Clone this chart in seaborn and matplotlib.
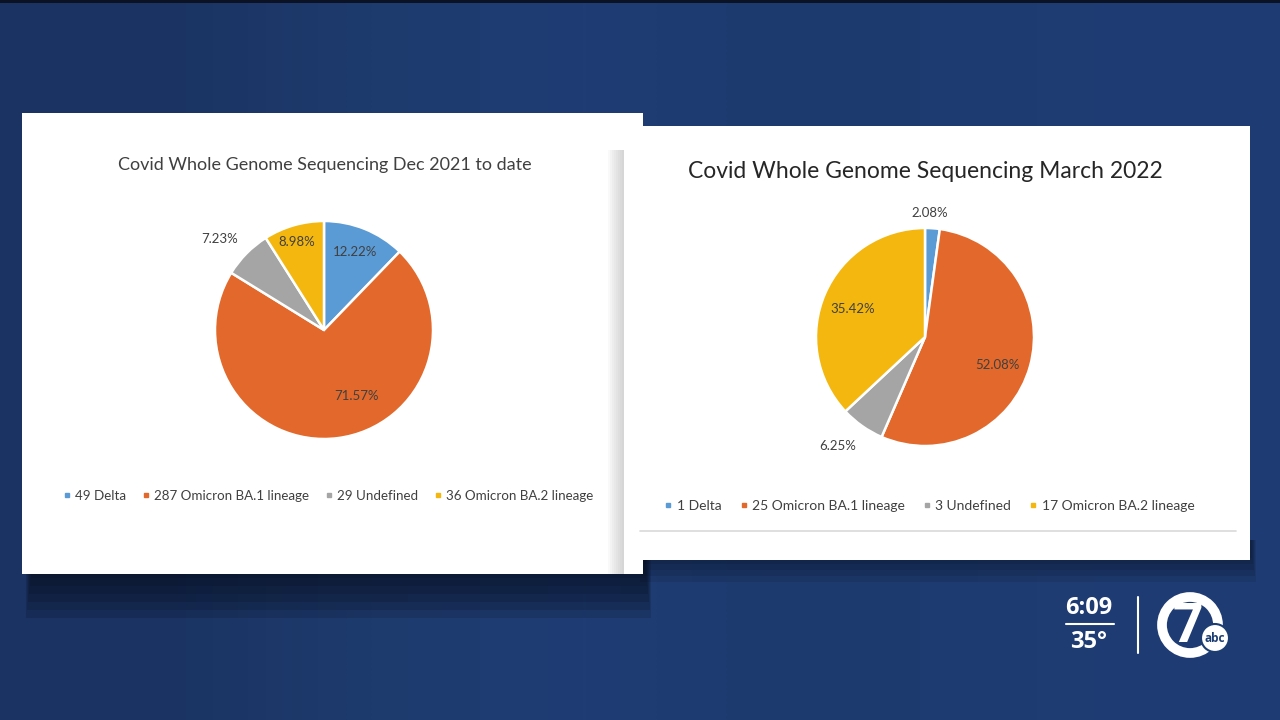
import numpy as np
import matplotlib
matplotlib.use("Agg")
import matplotlib.pyplot as plt
import seaborn as sns
from matplotlib.patches import Rectangle, Circle
from matplotlib.lines import Line2D
from matplotlib.colors import LinearSegmentedColormap

sns.set_theme(style="white")
plt.rcParams['font.family'] = ['Lato', 'DejaVu Sans']

# ---------------- data ----------------
categories = ["Delta", "Omicron BA.1 lineage", "Undefined", "Omicron BA.2 lineage"]
dec_title = "Covid Whole Genome Sequencing Dec 2021 to date"
dec_counts = [49, 287, 29, 36]
dec_pct_labels = ["12.22%", "71.57%", "7.23%", "8.98%"]
mar_title = "Covid Whole Genome Sequencing March 2022"
mar_counts = [1, 25, 3, 17]
mar_pct_labels = ["2.08%", "52.08%", "6.25%", "35.42%"]

colors = sns.color_palette(["#5b9bd5", "#e2692b", "#a5a5a5", "#f3b70f"])
text_col = "#404040"

W, H = 1280, 720
fig = plt.figure(figsize=(12.8, 7.2), dpi=100)

# ---------------- background ----------------
ax_bg = fig.add_axes([0, 0, 1, 1], zorder=-1)
ax_bg.set_xlim(0, W)
ax_bg.set_ylim(H, 0)
ax_bg.axis("off")
cmap = LinearSegmentedColormap.from_list("bg", ["#1a3362", "#1e3b6e", "#1f3d74", "#1d3a6e"])
grad = np.array([[0.0, 0.5, 1.0, 0.7]])
ax_bg.imshow(grad, cmap=cmap, extent=[0, W, H, 0], aspect="auto", interpolation="bilinear")
ax_bg.add_patch(Rectangle((0, 0), W, 3, color="#0a1224", lw=0))

# panel shadows (soft, stacked)
for k in range(6):
    ax_bg.add_patch(Rectangle((26 + k, 560), 625 - 2 * k, 58 - 8 * k, color="#060c1a", alpha=0.16, lw=0))
for k in range(5):
    ax_bg.add_patch(Rectangle((640 + k, 540), 616 - 2 * k, 42 - 6 * k, color="#060c1a", alpha=0.12, lw=0))

# panels
ax_bg.add_patch(Rectangle((22, 113), 621, 461, color="white", lw=0))
for k in range(8):
    ax_bg.add_patch(Rectangle((608 + 2 * k, 150), 16 - 2 * k, 424, color="#9a9a9a", alpha=0.06, lw=0))
ax_bg.add_patch(Rectangle((624, 126), 626, 434, color="white", lw=0, zorder=3))
ax_bg.plot([640, 1236], [531, 531], color="#d9d9d9", lw=1.2, zorder=4)

# clock / temperature / logo
ax_bg.text(1089, 608, "6:09", color="white", fontsize=17, fontweight="bold",
           ha="center", va="center", family=["Open Sans", "DejaVu Sans"])
ax_bg.plot([1066, 1114], [624, 624], color="white", lw=1.5)
ax_bg.text(1089, 642, "35°", color="white", fontsize=17, fontweight="bold",
           ha="center", va="center", family=["Open Sans", "DejaVu Sans"])
ax_bg.plot([1138, 1138], [597, 653], color="white", lw=1.5)
ax_bg.add_patch(Circle((1190, 625), 28, fill=False, ec="white", lw=7))
ax_bg.text(1188, 628, "7", color="white", fontsize=38, fontweight="bold",
           ha="center", va="center", family=["Open Sans", "DejaVu Sans"])
ax_bg.add_patch(Circle((1215, 638), 14, fc="white", ec="#1c3d72", lw=1.5))
ax_bg.text(1215, 639, "abc", color="#1c3d72", fontsize=8.5, fontweight="bold",
           ha="center", va="center", family=["Open Sans", "DejaVu Sans"])

# ---------------- pies ----------------
def px_axes(cx, cy, r, lim=1.5):
    side = 2 * lim * r
    return [(cx - side / 2) / W, 1 - (cy + side / 2) / H, side / W, side / H]


def draw_pie(cx, cy, r, counts, pct_labels, label_layout, fs, z):
    ax = fig.add_axes(px_axes(cx, cy, r), zorder=z)
    wedges, _ = ax.pie(counts, colors=colors, startangle=90, counterclock=False,
                       radius=1.0, wedgeprops=dict(edgecolor="white", linewidth=1.8))
    for lab, (ang, dist) in zip(pct_labels, label_layout):
        t = np.deg2rad(ang)
        ax.text(dist * np.sin(t), dist * np.cos(t), lab, ha="center", va="center",
                fontsize=fs, color=text_col)
    ax.set_xlim(-1.5, 1.5)
    ax.set_ylim(-1.5, 1.5)
    ax.set_aspect("equal")
    ax.axis("off")
    return wedges


def draw_legend(counts, center, fs, z, colspace):
    handles = [Line2D([], [], marker="s", ls="none", color=c, markersize=3.5) for c in colors]
    labels = [f"{n} {c}" for n, c in zip(counts, categories)]
    leg = fig.legend(handles, labels, loc="center", bbox_to_anchor=center, ncol=4,
                     frameon=False, fontsize=fs, handletextpad=0.1, columnspacing=colspace,
                     handlelength=1.0, labelcolor=text_col)
    leg.set_zorder(z)
    return leg

# left chart
fig.text(325 / W, 1 - 165 / H, dec_title, ha="center", va="center", fontsize=13, color=text_col)
draw_pie(324, 330, 109, dec_counts, dec_pct_labels,
         [(22, 0.77), (154, 0.67), (311, 1.27), (343, 0.84)], 9.5, 1)
draw_legend(dec_counts, (327 / W, 1 - 496 / H), 9.6, 2, 1.0)

# right chart
t = fig.text(925 / W, 1 - 171 / H, mar_title, ha="center", va="center", fontsize=16.5, color="#262626")
t.set_zorder(6)
draw_pie(925, 337, 109, mar_counts, mar_pct_labels,
         [(2.3, 1.14), (111, 0.71), (218.6, 1.28), (291, 0.71)], 9.5, 5)
draw_legend(mar_counts, (928 / W, 1 - 506 / H), 10, 6, 1.1)

fig.savefig("out.png", dpi=100, facecolor=fig.get_facecolor())
